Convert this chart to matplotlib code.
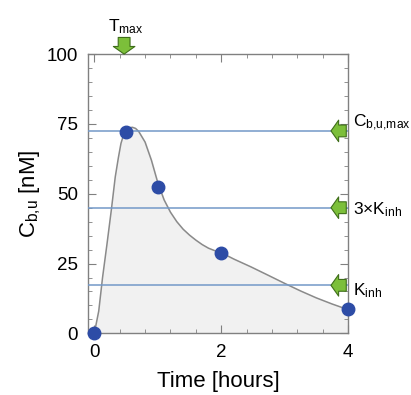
import numpy as np
import matplotlib
matplotlib.use("Agg")
import matplotlib.pyplot as plt
from matplotlib.ticker import MultipleLocator

plt.rcParams['font.family'] = ['Liberation Sans', 'DejaVu Sans']
plt.rcParams['mathtext.fontset'] = 'custom'
plt.rcParams['mathtext.rm'] = 'Liberation Sans'
plt.rcParams['mathtext.it'] = 'Liberation Sans:italic'

# measured concentrations
t_obs = [0, 0.5, 1, 2, 4]
c_obs = [0, 72, 52.5, 28.8, 8.7]

# fitted profile
t_fit = [0, 0.07, 0.13, 0.2, 0.27, 0.33, 0.38, 0.42, 0.46, 0.5, 0.55, 0.6, 0.65,
         0.7, 0.8, 0.9, 1.0, 1.1, 1.2, 1.3, 1.4, 1.5, 1.6, 1.7, 1.8, 1.9, 2.0,
         2.2, 2.47, 2.75, 3.0, 3.25, 3.5, 3.75, 4.0]
c_fit = [0, 8, 20, 32, 44.5, 56, 63, 68, 71, 72.8, 73.6, 73.8, 73.4,
         72.3, 68.5, 62, 54, 47.8, 43.4, 40, 37.3, 35.2, 33.4, 31.8, 30.5, 29.6, 28.9,
         26.6, 23.8, 20.7, 17.9, 15.2, 12.7, 10.5, 8.5]

# reference levels
levels = [72.5, 45, 17.2]
level_labels = [r'C$_{\mathregular{b{,}u{,}max}}$', r'3$\times$K$_{\mathregular{inh}}$',
                r'K$_{\mathregular{inh}}$']
label_dy = [2.7, -5, -7]
t_max = 0.47

green = '#7cbf3a'
green_edge = '#3f6e1a'

fig = plt.figure(figsize=(4.11, 3.95), dpi=100)
ax = fig.add_axes([0.214, 0.156, 0.633, 0.707])

ax.fill_between(t_fit, c_fit, 0, color='#f1f1f1', zorder=1)
ax.plot(t_fit, c_fit, color='#8a8a8a', lw=1.1, zorder=2)
for lv in levels:
    ax.axhline(lv, color='#7399c8', lw=1.1, zorder=3)
ax.plot(t_obs, c_obs, 'o', color='#2d4ca6', ms=9, zorder=5, clip_on=False)

ax.set_xlim(-0.1, 4)
ax.set_ylim(0, 100)
ax.set_xticks([0, 2, 4])
ax.set_yticks([0, 25, 50, 75, 100])
ax.xaxis.set_minor_locator(MultipleLocator(0.4))
ax.yaxis.set_minor_locator(MultipleLocator(5))
ax.tick_params(which='both', direction='in', top=True, right=True, color='#808080',
               labelsize=13.5)
ax.tick_params(axis='y', pad=7)
ax.tick_params(axis='x', pad=8)
ax.tick_params(which='major', length=6)
ax.tick_params(which='minor', length=3)
for s in ax.spines.values():
    s.set_color('#808080')
    s.set_linewidth(1)

ax.set_xlabel('Time [hours]', fontsize=16, labelpad=7)
ax.set_ylabel(r'C$_{\mathregular{b{,}u}}$ [nM]', fontsize=16, labelpad=3)

arrow_style = 'simple,head_length=0.55,head_width=1.55,tail_width=0.85'
for lv, lab, dy in zip(levels, level_labels, label_dy):
    ax.annotate('', xy=(3.73, lv), xycoords='data', xytext=(11, 0),
                textcoords='offset points', annotation_clip=False,
                arrowprops=dict(arrowstyle=arrow_style, fc=green, ec=green_edge,
                                lw=0.8, shrinkA=0, shrinkB=0, mutation_scale=10))
    ax.annotate(lab, xy=(4, lv), xycoords='data', xytext=(3.6, dy),
                textcoords='offset points', fontsize=12.5, va='baseline', ha='left',
                annotation_clip=False)

ax.annotate('', xy=(t_max, 100), xycoords='data', xytext=(0, 12),
            textcoords='offset points', annotation_clip=False,
            arrowprops=dict(arrowstyle=arrow_style, fc=green, ec=green_edge,
                            lw=0.8, shrinkA=0, shrinkB=0, mutation_scale=10))
ax.annotate(r'T$_{\mathregular{max}}$', xy=(t_max, 100), xycoords='data',
            xytext=(1, 16.5), textcoords='offset points', fontsize=12.5,
            ha='center', va='baseline', annotation_clip=False)

fig.savefig('out.png', dpi=100)
